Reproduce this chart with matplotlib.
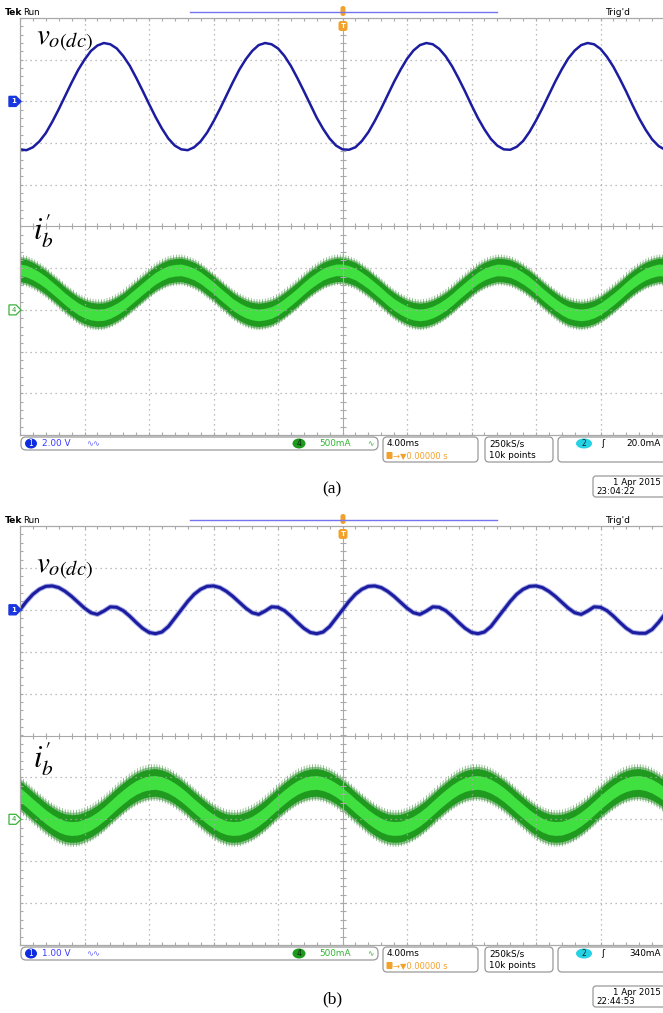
import numpy as np
import matplotlib.pyplot as plt
from matplotlib.patches import FancyBboxPatch, Polygon, Ellipse

plt.rcParams['mathtext.fontset'] = 'stix'
plt.rcParams['hatch.linewidth'] = 0.6

W, H = 663, 1013

# time axis in divisions (4.00 ms/div, 10 div across the screen)
t_div = np.round(np.arange(0, 10.01, 0.1), 1)

# ch1: v_o(dc) in divisions, screen (a)
vo_a = [1.85, 1.83, 1.90, 2.04, 2.24, 2.51, 2.81, 3.13, 3.45, 3.75,
        4.00, 4.21, 4.34, 4.40, 4.37, 4.27, 4.09, 3.86, 3.57, 3.26,
        2.94, 2.63, 2.35, 2.11, 1.94, 1.85, 1.83, 1.90, 2.04, 2.25,
        2.52, 2.82, 3.14, 3.46, 3.76, 4.01, 4.21, 4.35, 4.40, 4.37,
        4.27, 4.09, 3.85, 3.56, 3.25, 2.93, 2.61, 2.34, 2.11, 1.94,
        1.85, 1.84, 1.90, 2.05, 2.26, 2.53, 2.83, 3.15, 3.47, 3.76,
        4.02, 4.22, 4.35, 4.40, 4.37, 4.26, 4.08, 3.84, 3.55, 3.24,
        2.91, 2.60, 2.33, 2.10, 1.94, 1.85, 1.84, 1.91, 2.05, 2.27,
        2.54, 2.84, 3.16, 3.48, 3.77, 4.03, 4.22, 4.35, 4.40, 4.37,
        4.26, 4.07, 3.83, 3.54, 3.23, 2.90, 2.59, 2.32, 2.09, 1.93,
        1.84]

# ch4: i'_b (band centre) in divisions, screen (a)
ib_a = [-1.04, -1.07, -1.14, -1.23, -1.34, -1.47, -1.60, -1.74, -1.86, -1.97,
        -2.05, -2.10, -2.12, -2.11, -2.06, -1.98, -1.88, -1.75, -1.62, -1.49,
        -1.36, -1.24, -1.15, -1.08, -1.05, -1.04, -1.08, -1.14, -1.23, -1.35,
        -1.47, -1.61, -1.74, -1.87, -1.97, -2.05, -2.10, -2.12, -2.10, -2.06,
        -1.98, -1.87, -1.75, -1.62, -1.48, -1.35, -1.24, -1.14, -1.08, -1.04,
        -1.04, -1.08, -1.14, -1.24, -1.35, -1.48, -1.61, -1.75, -1.87, -1.97,
        -2.05, -2.10, -2.12, -2.10, -2.05, -1.97, -1.87, -1.75, -1.61, -1.48,
        -1.35, -1.23, -1.14, -1.08, -1.04, -1.05, -1.08, -1.15, -1.24, -1.35,
        -1.48, -1.62, -1.75, -1.87, -1.98, -2.06, -2.10, -2.12, -2.10, -2.05,
        -1.97, -1.86, -1.74, -1.61, -1.47, -1.34, -1.23, -1.14, -1.08, -1.04,
        -1.05]

# ch1: v_o(dc) in divisions, screen (b)
vo_b = [3.00, 3.20, 3.37, 3.49, 3.56, 3.57, 3.53, 3.44, 3.32, 3.18,
        3.04, 2.93, 2.89, 2.97, 3.07, 3.06, 2.98, 2.85, 2.70, 2.56,
        2.46, 2.43, 2.47, 2.60, 2.80, 3.00, 3.20, 3.37, 3.49, 3.56,
        3.57, 3.53, 3.44, 3.32, 3.18, 3.04, 2.93, 2.89, 2.97, 3.07,
        3.06, 2.98, 2.85, 2.70, 2.56, 2.46, 2.43, 2.47, 2.60, 2.80,
        3.00, 3.20, 3.37, 3.49, 3.56, 3.57, 3.53, 3.44, 3.32, 3.18,
        3.04, 2.93, 2.89, 2.97, 3.07, 3.06, 2.98, 2.85, 2.70, 2.56,
        2.46, 2.43, 2.47, 2.60, 2.80, 3.00, 3.20, 3.37, 3.49, 3.56,
        3.57, 3.53, 3.44, 3.32, 3.18, 3.04, 2.93, 2.89, 2.97, 3.07,
        3.06, 2.98, 2.85, 2.70, 2.56, 2.46, 2.44, 2.44, 2.53, 2.70,
        2.90]

# ch4: i'_b (band centre) in divisions, screen (b)
ib_b = [-1.41, -1.54, -1.68, -1.81, -1.94, -2.05, -2.14, -2.20, -2.22, -2.21,
        -2.16, -2.09, -1.99, -1.87, -1.73, -1.59, -1.46, -1.34, -1.24, -1.17,
        -1.13, -1.12, -1.15, -1.21, -1.30, -1.41, -1.54, -1.68, -1.81, -1.94,
        -2.05, -2.14, -2.20, -2.22, -2.21, -2.16, -2.09, -1.99, -1.87, -1.73,
        -1.59, -1.46, -1.34, -1.24, -1.17, -1.13, -1.12, -1.15, -1.21, -1.30,
        -1.41, -1.54, -1.68, -1.81, -1.94, -2.05, -2.14, -2.20, -2.22, -2.21,
        -2.16, -2.09, -1.99, -1.87, -1.73, -1.59, -1.46, -1.34, -1.24, -1.17,
        -1.13, -1.12, -1.15, -1.21, -1.30, -1.41, -1.54, -1.68, -1.81, -1.94,
        -2.05, -2.14, -2.20, -2.22, -2.21, -2.16, -2.09, -1.99, -1.87, -1.73,
        -1.59, -1.46, -1.34, -1.24, -1.17, -1.13, -1.12, -1.15, -1.21, -1.30,
        -1.41]

# switching ripple on i'_b: (dense core, outer spikes) half-widths in div
ripple_a = (0.28, 0.37)
ripple_b = (0.33, 0.44)

# channel ground markers (div)
ch1_ref = [3, 3]
ch4_ref = [-2, -2]

ch1_scale = ['2.00 V', '1.00 V']
ch4_scale = ['500mA', '500mA']
timebase = '4.00ms'
delay = '\u2192\u25bc0.00000 s'
sampling = ('250kS/s', '10k points')
trig_level = ['20.0mA', '340mA']
stamps = [('1 Apr 2015', '23:04:22'), ('1 Apr 2015', '22:44:53')]
captions = ['(a)', '(b)']

grid_c = '#a9a9a9'
blue = '#1c1ca0'
orange = '#f2a12a'

fig = plt.figure(figsize=(W / 100, H / 100), dpi=100)
ov = fig.add_axes([0, 0, 1, 1], zorder=10)
ov.set_xlim(0, W)
ov.set_ylim(H, 0)
ov.axis('off')
ov.patch.set_alpha(0)


def graticule(ax):
    ax.set_xlim(0, 10)
    ax.set_ylim(-5, 5)
    ax.set_xticks([])
    ax.set_yticks([])
    for s in ax.spines.values():
        s.set_color(grid_c)
        s.set_linewidth(0.9)
    for v in range(1, 10):
        if v != 5:
            ax.axvline(v, color=grid_c, lw=0.9, ls=(0, (1, 3)))
    for h in range(-4, 5):
        if h != 0:
            ax.axhline(h, color=grid_c, lw=0.9, ls=(0, (1, 3)))
    ax.axvline(5, color=grid_c, lw=0.8)
    ax.axhline(0, color=grid_c, lw=0.8)
    mx = np.arange(0, 10.01, 0.2)
    my = np.arange(-5, 5.01, 0.2)
    for yy in (0, 5, -5):
        ax.plot(mx, np.full_like(mx, yy), ls='none', marker='|', ms=4.5,
                mew=0.8, color=grid_c)
    for xx in (5, 0):
        ax.plot(np.full_like(my, xx), my, ls='none', marker='_', ms=4.5,
                mew=0.8, color=grid_c)


def draw_band(ax, x, c, core, fuzz):
    c = np.asarray(c)
    ax.fill_between(x, c - fuzz, c + fuzz, facecolor='none',
                    edgecolor='#2b8a2b', hatch='||||||', linewidth=0,
                    alpha=0.6)
    ax.fill_between(x, c - fuzz * 0.88, c + fuzz * 0.88, color='#2e8e2e',
                    alpha=0.5, linewidth=0)
    ax.fill_between(x, c - core, c + core, color='#1f9a1f', linewidth=0)
    ax.fill_between(x, c - core * 0.5, c + core * 0.5, color='#3fe03f',
                    linewidth=0)


def rbox(x, y, w, h, r=4, ec='#9a9a9a'):
    ov.add_patch(FancyBboxPatch((x, y), w, h,
                                boxstyle=f'round,pad=0,rounding_size={r}',
                                fc='white', ec=ec, lw=0.9))


def txt(x, y, s, **kw):
    kw.setdefault('fontsize', 6.4)
    kw.setdefault('va', 'center')
    ov.text(x, y, s, **kw)


def panel(i, top, bottom, vo, ib, ripple, noisy, v_pos, i_pos):
    ax = fig.add_axes([20 / W, 1 - bottom / H, 645 / W, (bottom - top) / H])
    graticule(ax)
    draw_band(ax, t_div, ib, *ripple)
    if noisy:
        ax.plot(t_div, vo, color='#3a46c8', lw=3.6, alpha=0.45,
                solid_joinstyle='round')
        ax.plot(t_div, vo, color=blue, lw=2.2, solid_joinstyle='round')
    else:
        ax.plot(t_div, vo, color=blue, lw=1.8, solid_joinstyle='round')

    div = (bottom - top) / 10

    # header
    ty = top - 6
    txt(5, ty, 'Tek', fontweight='bold', fontsize=6.6)
    txt(23, ty, 'Run', fontsize=6.2)
    ov.plot([190, 497], [ty, ty], color='#7474ee', lw=1)
    txt(606, ty, "Trig'd", fontsize=6.6)
    ov.add_patch(FancyBboxPatch((340.5, top - 12), 5, 10,
                                boxstyle='round,pad=0,rounding_size=2.4',
                                fc=orange, ec='none'))
    ov.add_patch(FancyBboxPatch((338.5, top + 3), 9, 10,
                                boxstyle='round,pad=0,rounding_size=2.5',
                                fc=orange, ec='none'))
    txt(343, top + 8, 'T', color='white', fontsize=5, ha='center',
        fontweight='bold')

    # channel ground markers
    y1 = top + (5 - ch1_ref[i]) * div
    ov.add_patch(Polygon([[9, y1 - 5], [16, y1 - 5], [21, y1], [16, y1 + 5],
                          [9, y1 + 5]], fc='#1a36e0', ec='#1a36e0'))
    txt(13.5, y1, '1', color='white', fontsize=5, ha='center',
        fontweight='bold')
    y4 = top + (5 - ch4_ref[i]) * div
    ov.add_patch(Polygon([[9, y4 - 5], [16, y4 - 5], [21, y4], [16, y4 + 5],
                          [9, y4 + 5]], fc='white', ec='#39b239', lw=0.9))
    txt(13.5, y4, '4', color='#2a9a2a', fontsize=5, ha='center')

    # trace labels
    ov.text(v_pos[0], v_pos[1], r'$v_{o(dc)}$', fontsize=21, va='baseline')
    ov.text(i_pos[0], i_pos[1], r'$i^{\prime}_{b}$', fontsize=22,
            va='baseline')

    # readout bar
    y0 = bottom + 2
    yc = y0 + 6.5
    rbox(21, y0, 357, 13, r=5)
    ov.add_patch(Ellipse((31, yc), 12, 10, fc='#0d2be0'))
    txt(31, yc, '1', color='white', fontsize=5.5, ha='center')
    txt(42, yc, ch1_scale[i], color='#3a3aff')
    txt(86, yc, '\u223f\u223f', color='#6a6aff', fontsize=6)
    ov.add_patch(Ellipse((299, yc), 13, 10, fc='#1c9a1c'))
    txt(299, yc, '4', color='#102010', fontsize=5.5, ha='center')
    txt(319, yc, ch4_scale[i], color='#36b436')
    txt(367, yc, '\u223f', color='#36b436', fontsize=5.5)

    rbox(383, y0, 95, 25)
    txt(387, yc, timebase, color='black')
    ov.add_patch(FancyBboxPatch((386.5, y0 + 15), 6, 7,
                                boxstyle='round,pad=0,rounding_size=1',
                                fc=orange, ec='none'))
    txt(393, y0 + 18.5, delay, color=orange, fontsize=6)

    rbox(485, y0, 68, 25)
    txt(489, yc, sampling[0], color='black')
    txt(489, y0 + 18.5, sampling[1], color='black')

    rbox(558, y0, 112, 25)
    ov.add_patch(Ellipse((584, yc), 16, 10, fc='#25d2e4'))
    txt(584, yc, '2', color='#102020', fontsize=5.5, ha='center')
    txt(601, yc, '\u0283', color='black', fontsize=6.5)
    txt(661, yc, trig_level[i], color='black', ha='right')

    # date stamp and caption
    rbox(593, bottom + 41, 74, 21, r=3)
    txt(661, bottom + 47, stamps[i][0], color='black', ha='right',
        fontsize=6.2)
    txt(596, bottom + 56.5, stamps[i][1], color='black', fontsize=6.2)
    ov.text(332, bottom + 54, captions[i], fontsize=12.5,
            family='Liberation Serif', ha='center', va='center')


panel(0, 18, 435, vo_a, ib_a, ripple_a, False, (36, 45), (33, 240))
panel(1, 526, 945, vo_b, ib_b, ripple_b, True, (36, 573), (33, 768))

fig.savefig('out.png', dpi=100)
